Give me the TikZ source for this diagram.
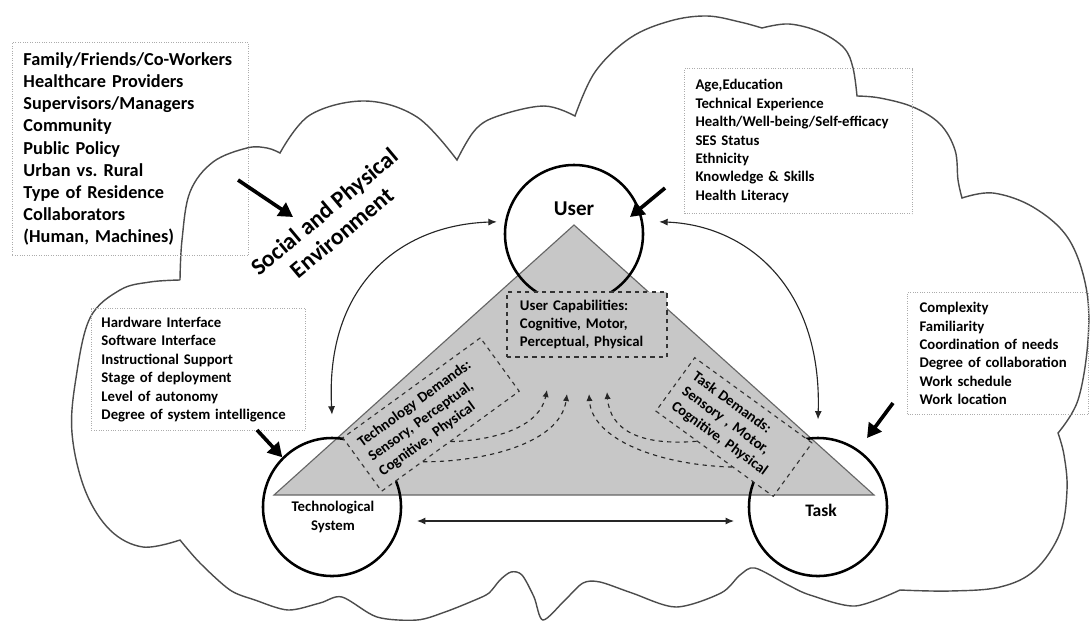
\documentclass[tikz,border=0pt]{standalone}
\usepackage{fontspec}
\setmainfont{Carlito}
\frenchspacing
\usetikzlibrary{arrows.meta, calc}

\begin{document}
\begin{tikzpicture}[
  x=0.025cm, y=-0.025cm,
  envline/.style={draw=black!70, line width=1pt},
  factbox/.style={draw=gray!65, densely dotted, line width=0.7pt, anchor=north west,
                  align=left, inner xsep=0.275cm, inner ysep=0pt,
                  font=\bfseries\fontsize{10.5}{13.1}\selectfont},
  demand/.style={draw=black!80, dashed, line width=0.8pt, fill=black!22,
                 align=left, inner xsep=0.25cm, minimum height=1.65cm,
                 font=\bfseries\fontsize{10.5}{12.8}\selectfont},
  actor/.style={circle, draw, line width=1.8pt, minimum size=3.45cm, inner sep=0pt},
  link/.style={{Latex[length=6pt,width=5pt]}-{Latex[length=6pt,width=5pt]},
               line width=0.8pt, black!85},
  flow/.style={-{Latex[length=5pt,width=4.5pt]}, dashed, line width=0.8pt, black!85},
  push/.style={-{Triangle[length=10pt,width=11pt]}, line width=2.6pt},
  >=Latex
]
\useasboundingbox (0,0) rectangle (1090,621);

% environment outline
\draw[envline]
  plot[smooth, tension=0.6] coordinates {(180,280) (182,240) (190,192) (213,162) (247,148) (267,148) (280,153)}
  -- plot[smooth, tension=0.6] coordinates {(280,153) (310,115) (365,101) (417,117) (457,160)}
  -- plot[smooth, tension=0.6] coordinates {(457,160) (475,130) (498,116) (544,106) (575,116)}
  -- plot[smooth, tension=0.6] coordinates {(575,116) (595,72) (630,38) (670,21) (707,16) (740,22) (762,28)}
  -- plot[smooth, tension=0.6] coordinates {(762,28) (789,24) (820,32) (844,48) (853,68) (857,96)}
  -- plot[smooth, tension=0.6] coordinates {(857,96) (880,98) (913,107) (940,124) (955,150) (958,180) (962,198)}
  -- plot[smooth, tension=0.6] coordinates {(962,198) (993,193) (1033,207) (1068,238) (1086,287) (1088,340) (1078,400) (1058,433)}
  -- plot[smooth, tension=0.6] coordinates {(1058,433) (1064,455) (1067,490) (1060,533) (1035,570) (1000,587) (950,591) (900,590)}
  -- plot[smooth, tension=0.5] coordinates {(900,590) (855,606) (810,595) (788,585) (755,568) (740,575) (721,593)
       (676,607) (632,593) (600,582) (583,583) (565,600) (543,620) (534,597) (522,575) (511,572) (500,580)
       (489,593) (475,600) (445,612) (417,620) (377,617) (342,597) (320,603) (288,610) (255,600) (230,590)
       (200,563) (180,540)}
  -- plot[smooth, tension=0.6] coordinates {(180,540) (143,547) (110,530) (85,490) (72,433) (76,378) (90,318) (120,290) (150,282) (180,280)};

% factor lists
\node[factbox, font=\bfseries\fontsize{13}{15.8}\selectfont, text width=5.35cm,
      minimum width=5.9cm, minimum height=5.325cm] (envlist) at (12,42) {%
  Family/Friends/Co-Workers\\
  Healthcare Providers\\
  Supervisors/Managers\\
  Community\\
  Public Policy\\
  Urban vs. Rural\\
  Type of Residence\\
  Collaborators\\
  (Human, Machines)};
\node[factbox, text width=5.15cm, minimum width=5.7cm, minimum height=3.625cm]
  (userlist) at (684,68) {%
  Age,Education\\
  Technical Experience\\
  Health/Well-being/Self-efficacy\\
  SES Status\\
  Ethnicity\\
  Knowledge \& Skills\\
  Health Literacy};
\node[factbox, inner xsep=0.25cm, text width=4.85cm, minimum width=5.35cm, minimum height=3.05cm]
  (techlist) at (91,308) {%
  Hardware Interface\\
  Software Interface\\
  Instructional Support\\
  Stage of deployment\\
  Level of autonomy\\
  Degree of system intelligence};
\node[factbox, inner xsep=0.3cm, text width=3.925cm, minimum width=4.525cm, minimum height=3.05cm]
  (tasklist) at (907,292) {%
  Complexity\\
  Familiarity\\
  Coordination of needs\\
  Degree of collaboration\\
  Work schedule\\
  Work location};

\node[font=\bfseries\fontsize{16.8}{19.5}\selectfont, align=center, rotate=40] (envlbl) at (333,222)
  {Social and Physical\\Environment};

% work system triangle
\coordinate (apex) at (574,225);
\coordinate (baseR) at (874,495);
\coordinate (baseL) at (274,495);
\draw[fill=black!22, draw=black!60, line width=0.8pt] (apex) -- (baseR) -- (baseL) -- cycle;

\node[actor] (user) at (574,234) {};
\node[actor] (tech) at (332,507) {};
\node[actor] (task) at (818,507) {};

% demands and capabilities
\node[demand, text width=3.35cm, inner xsep=0.325cm, minimum height=1.625cm] (usercap) at (587,324.5) {%
  User Capabilities:\\
  Cognitive, Motor,\\
  Perceptual, Physical};
\node[demand, text width=3.75cm, rotate=36] (techdem) at (431,414.5) {%
  Technology Demands:\\
  Sensory, Perceptual,\\
  Cognitive, Physical};
\node[demand, text width=3.125cm, rotate=-36] (taskdem) at (734,427) {%
  Task Demands:\\
  Sensory , Motor,\\
  Cognitive, Physical};

\coordinate (capA) at (547,390);
\coordinate (capB) at (567,394);
\coordinate (capC) at (589,394);
\coordinate (capD) at (607,392);
\draw[flow] (techdem.south) .. controls (500,440) and (540,425) .. (capA);
\draw[flow] ($(techdem.south)!0.4!(techdem.south west)$) .. controls (480,462) and (560,445) .. (capB);
\draw[flow] ($(taskdem.south)!0.3!(taskdem.south east)$) .. controls (660,465) and (592,440) .. (capC);
\draw[flow] ($(taskdem.south)!0.3!(taskdem.south west)$) .. controls (640,446) and (610,430) .. (capD);

% links between the three components
\draw[link] ([xshift=-0.2cm]user.170) .. controls (400,225) and (325,285) .. ([yshift=0.55cm]tech.north);
\draw[link] ([xshift=0.4cm]user.10) .. controls (745,225) and (822,285) .. ([yshift=0.43cm]task.north);
\coordinate (tsL) at (417,521);
\coordinate (tsR) at (734,521);
\draw[link] (tsL) -- (tsR);

% influences
\coordinate (envtail) at (238,180);
\coordinate (envtip) at (293,217);
\coordinate (usertail) at (665,188);
\coordinate (usertip) at (630,217);
\coordinate (techtail) at (257,430);
\coordinate (tasktail) at (893,403);
\coordinate (tasktip) at (867,438);
\draw[push] (envtail) -- (envtip);
\draw[push] (usertail) -- (usertip);
\draw[push] (techtail) -- (tech.135);
\draw[push] (tasktail) -- (tasktip);

% component labels
\node[font=\bfseries\fontsize{15}{18}\selectfont] (userlbl) at (574,209) {User};
\node[font=\bfseries\fontsize{10.5}{14}\selectfont, align=center] (techlbl) at (333,517) {Technological\\System};
\node[font=\bfseries\fontsize{12.5}{15}\selectfont] (tasklbl) at (821,510) {Task};

\end{tikzpicture}
\end{document}
